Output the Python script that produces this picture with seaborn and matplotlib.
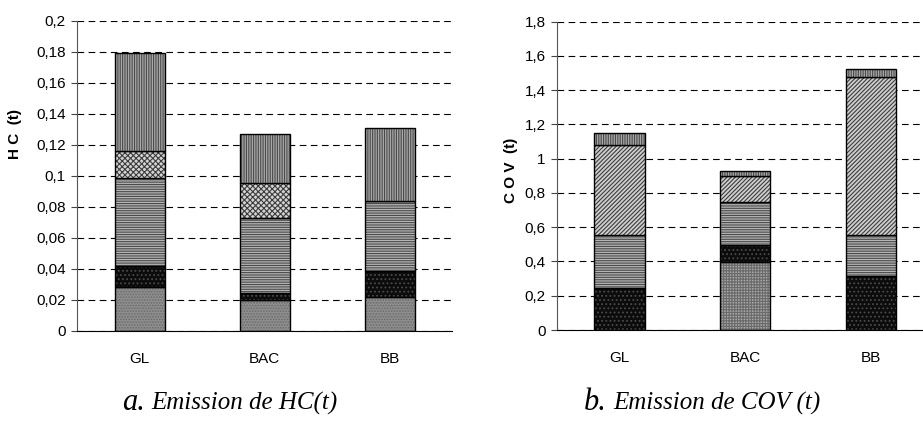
import numpy as np
import matplotlib
matplotlib.use('Agg')
import matplotlib.pyplot as plt
import seaborn as sns

cats = ['GL', 'BAC', 'BB']

# HC (t) - stacked segments, bottom to top
hc_dots = [0.028, 0.0195, 0.0215]
hc_black = [0.014, 0.005, 0.017]
hc_horiz = [0.0565, 0.0485, 0.045]
hc_cross = [0.0175, 0.022, 0.0]
hc_vert = [0.063, 0.032, 0.0475]

# COV (t) - stacked segments, bottom to top
cov_dots = [0.0, 0.397, 0.0]
cov_black = [0.246, 0.097, 0.3135]
cov_horiz = [0.306, 0.253, 0.2385]
cov_diag = [0.528, 0.153, 0.927]
cov_vert = [0.073, 0.029, 0.046]

hc_ticks = [0, 0.02, 0.04, 0.06, 0.08, 0.1, 0.12, 0.14, 0.16, 0.18, 0.2]
hc_ticklabels = ['0', '0,02', '0,04', '0,06', '0,08', '0,1', '0,12', '0,14', '0,16', '0,18', '0,2']
cov_ticks = [0, 0.2, 0.4, 0.6, 0.8, 1.0, 1.2, 1.4, 1.6, 1.8]
cov_ticklabels = ['0', '0,2', '0,4', '0,6', '0,8', '1', '1,2', '1,4', '1,6', '1,8']

sns.set_style('white')
plt.rcParams['font.family'] = ['Liberation Sans', 'DejaVu Sans']
plt.rcParams['text.color'] = 'black'
plt.rcParams['axes.labelcolor'] = 'black'
plt.rcParams['xtick.color'] = 'black'
plt.rcParams['ytick.color'] = 'black'
plt.rcParams['hatch.linewidth'] = 0.8

# (face colour, hatch colour, hatch)
st_dots = ('#8e8e8e', '#6a6a6a', '......')
st_black = ('#0c0c0c', '#4a4a4a', '....')
st_horiz = ('#b4b4b4', '#4a4a4a', '-------')
st_cross = ('#d4d4d4', '#3c3c3c', 'xxxxxx')
st_diag = ('#cfcfcf', '#3c3c3c', '////////')
st_vert = ('#a8a8a8', '#4a4a4a', '|||||||')
st_dots2 = ('#a6a6a6', '#6a6a6a', '++++++')


def stacked(ax, series, styles):
    bottom = np.zeros(len(cats))
    for vals, (face, hcol, hatch) in zip(series, styles):
        sns.barplot(x=cats, y=vals, bottom=bottom, color=face, edgecolor=hcol,
                    hatch=hatch, linewidth=0, width=0.4, saturation=1,
                    errorbar=None, ax=ax)
        sns.barplot(x=cats, y=vals, bottom=bottom, color='black', fill=False,
                    linewidth=1, width=0.4, errorbar=None, ax=ax)
        bottom = bottom + np.array(vals)


def style_axes(ax, ticks, ticklabels, ylabel, label_xy):
    ax.set_xlim(-0.5, 2.5)
    ax.set_ylim(ticks[0], ticks[-1])
    ax.set_yticks(ticks)
    ax.set_yticklabels(ticklabels, fontsize=11)
    ax.set_xticks([0, 1, 2])
    ax.set_xticklabels(cats, fontsize=11)
    ax.set_xticks([0.5, 1.5, 2.5], minor=True)
    ax.tick_params(axis='x', which='major', length=0, pad=15)
    ax.tick_params(axis='x', which='minor', length=4, direction='out', color='black')
    ax.tick_params(axis='y', length=4, direction='out', pad=4, color='#444444', left=True)
    ax.yaxis.grid(True, color='black', linestyle=(0, (6, 4)), linewidth=0.8)
    ax.xaxis.grid(False)
    ax.set_axisbelow(True)
    sns.despine(ax=ax)
    ax.spines['left'].set_color('#555555')
    ax.spines['bottom'].set_color('black')
    ax.set_xlabel('')
    ax.set_ylabel(ylabel, fontsize=11, fontweight='bold', color='black')
    ax.yaxis.set_label_coords(*label_xy)


fig = plt.figure(figsize=(9.23, 4.24), dpi=100)
ax1 = fig.add_axes([77 / 923, 93.3 / 424, 375 / 923, 310 / 424])
ax2 = fig.add_axes([556.7 / 923, 94 / 424, 377 / 923, 308.3 / 424])

stacked(ax1, [hc_dots, hc_black, hc_horiz, hc_cross, hc_vert],
        [st_dots, st_black, st_horiz, st_cross, st_vert])
stacked(ax2, [cov_dots, cov_black, cov_horiz, cov_diag, cov_vert],
        [st_dots2, st_black, st_horiz, st_diag, st_vert])

style_axes(ax1, hc_ticks, hc_ticklabels, 'H C  (t)', (-0.147, 0.635))
style_axes(ax2, cov_ticks, cov_ticklabels, 'C O V  (t)', (-0.103, 0.519))

serif = ['Liberation Serif', 'DejaVu Serif']
fig.text(145 / 923, 14 / 424, 'a.', ha='right', va='baseline', fontsize=22,
         style='italic', family=serif, color='black')
fig.text(151 / 923, 14 / 424, 'Emission de HC(t)', ha='left', va='baseline',
         fontsize=18, style='italic', family=serif, color='black')
fig.text(607 / 923, 14 / 424, 'b.', ha='right', va='baseline', fontsize=22,
         style='italic', family=serif, color='black')
fig.text(613 / 923, 14 / 424, 'Emission de COV (t)', ha='left', va='baseline',
         fontsize=18, style='italic', family=serif, color='black')

fig.savefig('out.png', dpi=100)
